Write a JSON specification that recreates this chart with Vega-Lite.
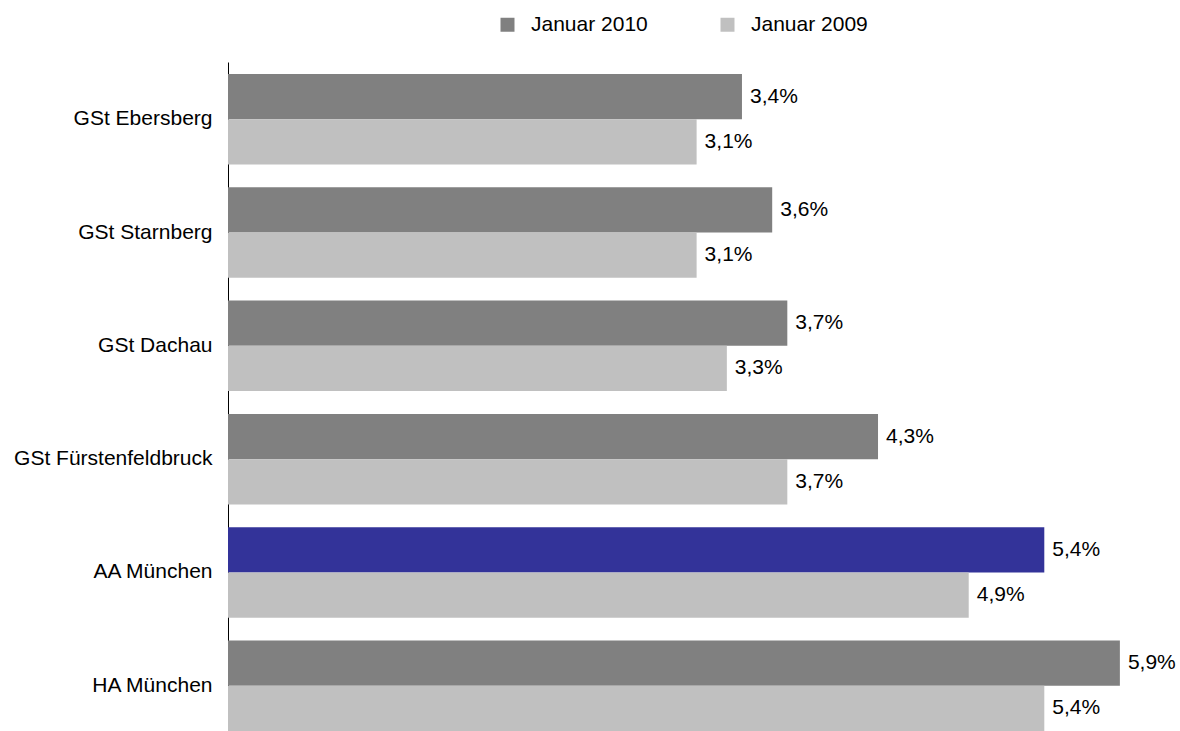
{
  "$schema": "https://vega.github.io/schema/vega-lite/v6.json",
  "autosize": "none",
  "width": 907,
  "height": 669,
  "padding": {"left": 228, "top": 62, "right": 45, "bottom": 0},
  "background": "white",
  "config": {
    "view": {"stroke": null},
    "font": "Liberation Sans",
    "locale": {"number": {"decimal": ",", "thousands": ".", "grouping": [3], "currency": ["", " €"]}}
  },
  "data": {
    "values": [
      {"region": "GSt Ebersberg", "series": "Januar 2010", "value": 0.034},
      {"region": "GSt Ebersberg", "series": "Januar 2009", "value": 0.031},
      {"region": "GSt Starnberg", "series": "Januar 2010", "value": 0.036},
      {"region": "GSt Starnberg", "series": "Januar 2009", "value": 0.031},
      {"region": "GSt Dachau", "series": "Januar 2010", "value": 0.037},
      {"region": "GSt Dachau", "series": "Januar 2009", "value": 0.033},
      {"region": "GSt Fürstenfeldbruck", "series": "Januar 2010", "value": 0.043},
      {"region": "GSt Fürstenfeldbruck", "series": "Januar 2009", "value": 0.037},
      {"region": "AA München", "series": "Januar 2010", "value": 0.054},
      {"region": "AA München", "series": "Januar 2009", "value": 0.049},
      {"region": "HA München", "series": "Januar 2010", "value": 0.059},
      {"region": "HA München", "series": "Januar 2009", "value": 0.054}
    ]
  },
  "encoding": {
    "y": {
      "field": "region",
      "type": "nominal",
      "sort": null,
      "scale": {"paddingInner": 0.201, "paddingOuter": 0.053, "align": 1},
      "axis": {
        "title": null,
        "ticks": false,
        "domainColor": "#000000",
        "domainWidth": 1,
        "labelFontSize": 21,
        "labelColor": "#000000",
        "labelPadding": 16,
        "labelLimit": 400
      }
    },
    "yOffset": {
      "field": "series",
      "type": "nominal",
      "sort": ["Januar 2010", "Januar 2009"],
      "scale": {"paddingInner": 0, "paddingOuter": 0}
    },
    "x": {
      "field": "value",
      "type": "quantitative",
      "scale": {"domain": [0, 0.06], "nice": false},
      "axis": null
    }
  },
  "layer": [
    {
      "mark": {"type": "bar"},
      "encoding": {
        "color": {
          "condition": {"test": "datum.region === 'AA München' && datum.series === 'Januar 2010'", "value": "#333399"},
          "field": "series",
          "type": "nominal",
          "scale": {"domain": ["Januar 2010", "Januar 2009"], "range": ["#808080", "#c0c0c0"]},
          "legend": {
            "title": null,
            "orient": "none",
            "direction": "horizontal",
            "legendX": 269,
            "legendY": -48,
            "symbolType": "square",
            "symbolSize": 196,
            "symbolStrokeWidth": 0,
            "labelFontSize": 21,
            "labelColor": "#000000",
            "labelOffset": 13,
            "columnPadding": 69,
            "padding": 0
          }
        }
      }
    },
    {
      "mark": {"type": "text", "align": "left", "baseline": "middle", "dx": 8, "fontSize": 21, "color": "#000000"},
      "encoding": {
        "text": {"field": "value", "type": "quantitative", "format": ".1%"}
      }
    }
  ]
}
